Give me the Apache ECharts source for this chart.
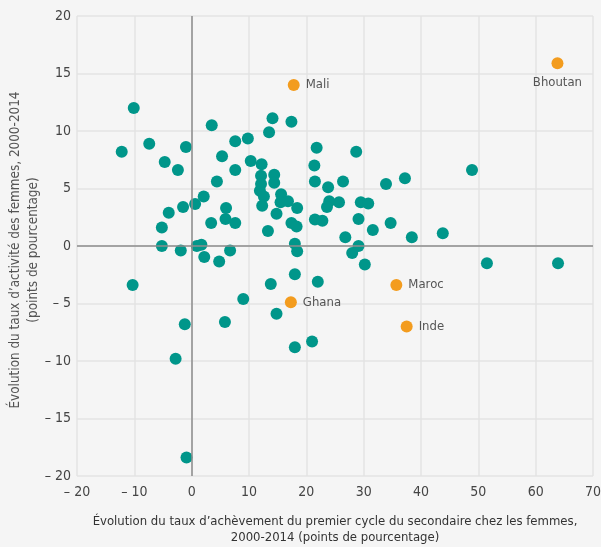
<!DOCTYPE html>
<html>
<head>
<meta charset="utf-8">
<script src="https://cdn.jsdelivr.net/npm/echarts@6/dist/echarts.min.js"></script>
<style>
html,body{margin:0;padding:0;background:#f5f5f5;}
#c{width:601px;height:547px;}
</style>
</head>
<body>
<div id="c"></div>
<script>
// Other countries (teal): [x, y]
const otherX = [-12.2,-10.1,-7.4,-4.7,-2.4,-1.0,3.5,5.3,7.6,9.8,7.6,4.4,10.3,12.2,12.1,12.1,11.9,12.6,12.3,14.4,14.4,14.1,13.5,17.4,15.6,15.5,16.8,14.8,13.3,17.4,18.3,18.4,18.0,18.4,18.0,0.6,2.1,-1.5,-4.0,-5.2,-5.2,-1.9,0.9,1.7,2.2,4.8,6.7,3.4,6.0,5.9,7.6,21.8,28.7,21.4,21.5,23.8,26.4,33.9,37.2,48.9,24.0,23.6,25.7,29.5,30.8,21.5,22.8,29.1,34.7,31.6,26.8,38.4,43.8,29.1,28.0,30.2,51.5,63.9,13.8,22.0,-10.3,9.0,14.8,-1.2,5.8,18.0,21.0,-2.8,-0.9];
const otherY = [8.2,12.0,8.9,7.3,6.6,8.6,10.5,7.8,9.1,9.35,6.6,5.6,7.4,7.1,6.1,5.4,4.8,4.3,3.5,6.2,5.5,11.1,9.9,10.8,4.5,3.8,3.9,2.8,1.3,2.0,1.7,3.3,0.2,-0.45,-2.45,3.65,4.3,3.4,2.9,1.6,0.0,-0.4,0.0,0.1,-0.95,-1.35,-0.4,2.0,3.3,2.35,2.0,8.55,8.2,7.0,5.6,5.1,5.6,5.4,5.9,6.6,3.9,3.4,3.8,3.8,3.7,2.3,2.2,2.35,2.0,1.4,0.76,0.76,1.1,0.0,-0.6,-1.6,-1.5,-1.5,-3.3,-3.1,-3.4,-4.6,-5.9,-6.8,-6.6,-8.8,-8.3,-9.8,-18.4];

// Highlighted countries (orange)
const hlNames = ['Mali','Bhoutan','Maroc','Inde','Ghana'];
const hlX = [17.8,63.8,35.7,37.5,17.3];
const hlY = [14.0,15.9,-3.4,-7.0,-4.9];
const hlLabelPos = ['right','bottom','right','right','right'];

const xTicks = [-20,-10,0,10,20,30,40,50,60,70];
const yTicks = [-20,-15,-10,-5,0,5,10,15,20];

const xTitle = 'Évolution du taux d\u2019achèvement du premier cycle du secondaire chez les femmes,\n2000-2014 (points de pourcentage)';
const yTitle = 'Évolution du taux d\u2019activité des femmes, 2000-2014\n(points de pourcentage)';

const FONT = '"DejaVu Sans Condensed","Liberation Sans Narrow",sans-serif';
const fmt = v => v < 0 ? '\u2013 ' + Math.abs(v) : String(v);

const chart = echarts.init(document.getElementById('c'), null, {renderer:'canvas'});
chart.setOption({
  backgroundColor:'#f5f5f5',
  animation:false,
  grid:{left:77,right:8,top:16,bottom:71,containLabel:false,outerBoundsMode:'none'},
  graphic:[{
    type:'text', x:25, y:250, rotation:Math.PI/2,
    style:{text:yTitle, fill:'#555', font:'13.4px ' + FONT, align:'center', verticalAlign:'middle', lineHeight:18},
    silent:true
  }],
  xAxis:{
    type:'value', min:xTicks[0], max:xTicks[xTicks.length-1], interval:10,
    axisLine:{show:false}, axisTick:{show:false},
    splitLine:{show:true,lineStyle:{color:'#e3e3e3',width:1.5}},
    axisLabel:{formatter:fmt,color:'#444',fontFamily:FONT,fontSize:14,margin:9},
    name:xTitle, nameLocation:'middle', nameGap:38,
    nameTextStyle:{color:'#333',fontFamily:FONT,fontSize:13,lineHeight:16}
  },
  yAxis:{
    type:'value', min:yTicks[0], max:yTicks[yTicks.length-1], interval:5,
    axisLine:{show:false}, axisTick:{show:false},
    splitLine:{show:true,lineStyle:{color:'#e3e3e3',width:1.5}},
    axisLabel:{formatter:fmt,color:'#444',fontFamily:FONT,fontSize:14,margin:6}
  },
  series:[
    {
      type:'scatter', symbolSize:12,
      itemStyle:{color:'#00968a',opacity:1},
      data: otherX.map((x,i)=>[x,otherY[i]]),
      markLine:{
        silent:true, symbol:'none', animation:false,
        label:{show:false},
        lineStyle:{color:'#8c8c8c',width:1.5,type:'solid'},
        data:[{xAxis:0},{yAxis:0}]
      },
      z:3
    },
    {
      type:'scatter', symbolSize:12,
      itemStyle:{color:'#f39c1e',opacity:1},
      data: hlNames.map((n,i)=>({name:n,value:[hlX[i],hlY[i]],
        label:{show:true,position:hlLabelPos[i],distance:hlLabelPos[i]==='bottom'?7:6}})),
      label:{show:true,formatter:'{b}',color:'#555',fontFamily:FONT,fontSize:13},
      z:4
    }
  ]
});
</script>
</body>
</html>
